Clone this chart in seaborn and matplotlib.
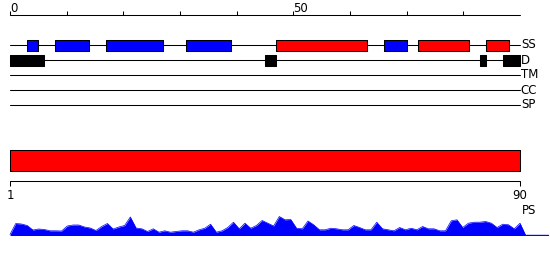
import matplotlib
matplotlib.use("Agg")
import matplotlib.pyplot as plt
import seaborn as sns
import numpy as np
import pandas as pd

# ---------------- data ----------------
seq_len = 90
ss_helix = [(47, 63), (72, 81), (84, 88)]            # red boxes
ss_strand = [(3, 5), (8, 14), (17, 27), (31, 39), (66, 70)]  # blue boxes
disorder = [(0, 6), (45, 47), (83, 84), (87, 90)]    # black boxes
track_labels = ["SS", "D", "TM", "CC", "SP"]
top_ticks = list(range(0, 90, 10))
top_tick_labels = {0: "0", 50: "50"}
domain_range = (1, 90)
bottom_ticks = [1, 90]
bottom_tick_labels = ["1", "90"]
ps_values = [1, 12, 11.5, 10, 5.5, 6.5, 6, 4.7, 4.7, 4.5,
             9.5, 10.5, 10.5, 8.5, 7.5, 5, 9, 12, 6.5, 8.5,
             10, 18.5, 7.5, 6.7, 4, 6.7, 3.3, 4.7, 3.3, 4,
             4.7, 4.7, 3.3, 5.7, 7.3, 11.3, 3.3, 4.7, 8, 13.3,
             6.7, 12.3, 7.3, 10, 15, 12.3, 9.5, 19, 15.7, 16,
             7.3, 6.7, 14.5, 10.7, 5.7, 5.7, 7.3, 6.7, 5.7, 5.7,
             10, 8, 5.7, 5.7, 13.3, 6.7, 5.7, 4.7, 8, 5.7,
             7.3, 5.7, 9, 6.7, 6.7, 4.7, 4.7, 14.7, 15.7, 8,
             12.3, 13.3, 13.3, 14, 12.3, 8, 11.3, 10.7, 6.7, 12.3]

# ---------------- style ----------------
sns.set_theme(style="white")
plt.rcParams['font.family'] = ['DejaVu Sans']
plt.rcParams['text.color'] = 'black'
FS = 8.5
LW = 0.75
W, H = 550, 260
fig = plt.figure(figsize=(W / 100, H / 100), dpi=100)

# top panel: 0..90 spans px 10..520
s_top = (520 - 10) / seq_len
ax_top = fig.add_axes([0, 0, 1, 1])
ax_top.set_xlim(-10 / s_top, seq_len + 30 / s_top)
ax_top.set_ylim(H, 0)
ax_top.axis("off")

axis_y = 15
ax_top.plot([0, seq_len], [axis_y, axis_y], color="black", lw=LW)
ax_top.vlines(top_ticks, axis_y - 4, axis_y, color="black", lw=LW)
for t, lab in top_tick_labels.items():
    ax_top.text(t, axis_y - 3, lab, ha="left", va="baseline", fontsize=FS, color="black")

track_y = {lab: 45 + 15 * i for i, lab in enumerate(track_labels)}
for lab, y in track_y.items():
    ax_top.plot([0, seq_len], [y, y], color="black", lw=LW, zorder=1)
    ax_top.text(seq_len + 0.15, y, lab, ha="left", va="center", fontsize=FS, color="black")

box_h = 11
def boxes(segs, y, color):
    ax_top.broken_barh([(s, e - s) for s, e in segs], (y - box_h / 2, box_h),
                       facecolors=color, edgecolors="black", linewidth=LW, zorder=2)

boxes(ss_strand, track_y["SS"], "#0000ff")
boxes(ss_helix, track_y["SS"], "#ff0000")
boxes(disorder, track_y["D"], "black")

# bottom panel: 1..90 spans px 10..520
s_bot = (520 - 10) / (domain_range[1] - domain_range[0])
xlim_bot = (domain_range[0] - 10 / s_bot, domain_range[1] + 30 / s_bot)
ax_bot = fig.add_axes([0, 0, 1, 1])
ax_bot.set_xlim(*xlim_bot)
ax_bot.set_ylim(H, 0)
ax_bot.axis("off")
ax_bot.patch.set_alpha(0)

ax_bot.broken_barh([(domain_range[0], domain_range[1] - domain_range[0])], (150, 20.5),
                   facecolors="#ff0000", edgecolors="black", linewidth=LW)
ax_y = 180.5
ax_bot.plot(list(domain_range), [ax_y, ax_y], color="black", lw=LW)
ax_bot.vlines(bottom_ticks, ax_y, ax_y + 5, color="black", lw=LW)
for t, lab in zip(bottom_ticks, bottom_tick_labels):
    ax_bot.text(t, ax_y + 8.5, lab, ha="center", va="top", fontsize=FS, color="black")
ax_bot.text(domain_range[1] + 0.3, 210, "PS", ha="left", va="center", fontsize=FS, color="black")

# PS area plot
base_px = 235.5
ps_h = 20
ax_ps = fig.add_axes([0, (H - base_px) / H, 1, ps_h / H])
ax_ps.set_xlim(*xlim_bot)
ax_ps.set_ylim(0, ps_h)
ax_ps.axis("off")
ax_ps.patch.set_alpha(0)
pos = np.arange(1, len(ps_values) + 1)
xs = np.append(pos, pos[-1] + 1)
ys = np.append(ps_values, 0)
df = pd.DataFrame({"pos": xs, "ps": ys})
ax_ps.fill_between(df["pos"], 0, df["ps"], color="#0000ff", lw=0)
sns.lineplot(data=df, x="pos", y="ps", ax=ax_ps, color="#0000ff", lw=0.5)
ax_ps.plot([xs[-1], xlim_bot[1] - 0.3], [0.3, 0.3], color="#0000ff", lw=1)

fig.savefig("out.png", dpi=100)
